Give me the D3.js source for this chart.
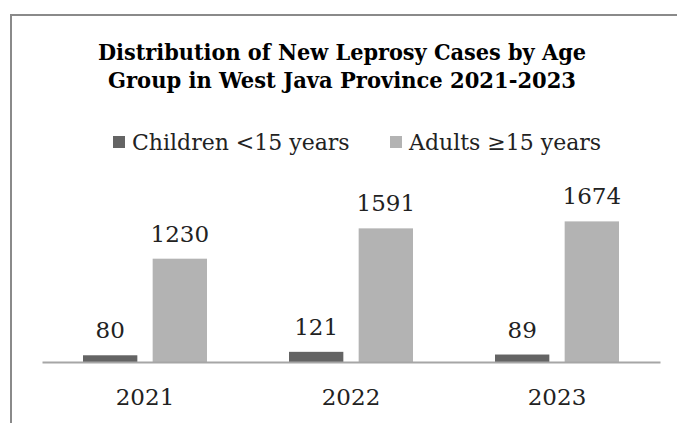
<!DOCTYPE html>
<html>
<head>
<meta charset="utf-8">
<script src="https://cdn.jsdelivr.net/npm/d3@7"></script>
<style>
  body { margin: 0; background: #fff; }
  svg { display: block; }
</style>
</head>
<body>
<script>
const years = ["2021", "2022", "2023"];
const seriesNames = ["Children <15 years", "Adults \u226515 years"];
const children = [80, 121, 89];
const adults = [1230, 1591, 1674];
const colors = ["#646464", "#b3b3b3"];

const width = 677;
const height = 423;
const font = "'DejaVu Serif', serif";
const titleFont = "'DejaVu Serif Condensed', 'DejaVu Serif', serif";

const svg = d3.select("body").append("svg")
  .attr("width", width)
  .attr("height", height);

svg.append("rect").attr("width", width).attr("height", height).attr("fill", "#fff");

// chart frame (runs off the right and bottom edges)
svg.append("rect")
  .attr("x", 11).attr("y", 15)
  .attr("width", width + 20).attr("height", height + 20)
  .attr("fill", "none")
  .attr("stroke", "#8a8a8a")
  .attr("stroke-width", 2);

// title
const titleLines = [
  { text: "Distribution of New Leprosy Cases by Age", y: 60, w: 488 },
  { text: "Group in West Java Province 2021-2023", y: 88, w: 468 }
];
svg.append("g").selectAll("text")
  .data(titleLines)
  .join("text")
  .attr("x", 342)
  .attr("y", d => d.y)
  .attr("text-anchor", "middle")
  .attr("font-family", titleFont)
  .attr("font-weight", "bold")
  .attr("font-size", 23)
  .attr("textLength", d => d.w)
  .attr("lengthAdjust", "spacingAndGlyphs")
  .attr("fill", "#000")
  .text(d => d.text);

// legend
const legendX = [113, 390];
const legend = svg.append("g").selectAll("g")
  .data(seriesNames)
  .join("g")
  .attr("transform", (d, i) => `translate(${legendX[i]},0)`);
legend.append("rect")
  .attr("x", 0).attr("y", 136)
  .attr("width", 12).attr("height", 12)
  .attr("fill", (d, i) => colors[i]);
legend.append("text")
  .attr("x", 19).attr("y", 150)
  .attr("font-family", font)
  .attr("font-size", 22)
  .attr("fill", "#222")
  .text(d => d);

// scales
const x0 = d3.scaleBand().domain(years).range([42, 660]);
const x1 = d3.scaleBand().domain([0, 1]).range([41, 165]).paddingInner(0.22);
const y = d3.scaleLinear().domain([0, 2000]).range([362, 194]);

const rows = years.map((yr, i) => ({ year: yr, values: [children[i], adults[i]] }));

const groups = svg.append("g").selectAll("g")
  .data(rows)
  .join("g")
  .attr("transform", d => `translate(${x0(d.year)},0)`);

groups.selectAll("rect")
  .data(d => d.values.map((v, k) => ({ v, k })))
  .join("rect")
  .attr("x", d => x1(d.k))
  .attr("width", x1.bandwidth())
  .attr("y", d => y(d.v))
  .attr("height", d => y(0) - y(d.v))
  .attr("fill", d => colors[d.k]);

groups.selectAll("text")
  .data(d => d.values.map((v, k) => ({ v, k })))
  .join("text")
  .attr("x", d => x1(d.k) + x1.bandwidth() / 2)
  .attr("y", d => y(d.v) - 17)
  .attr("text-anchor", "middle")
  .attr("font-family", font)
  .attr("font-size", 23)
  .attr("fill", "#222")
  .text(d => d.v);

// x axis
const axis = svg.append("g")
  .attr("transform", `translate(0,${y(0)})`)
  .call(d3.axisBottom(x0).tickSize(0).tickPadding(27));
axis.select(".domain").attr("stroke", "#a6a6a6").attr("stroke-width", 2);
axis.selectAll("text")
  .attr("font-family", font)
  .attr("font-size", 23)
  .attr("fill", "#222");
</script>
</body>
</html>
